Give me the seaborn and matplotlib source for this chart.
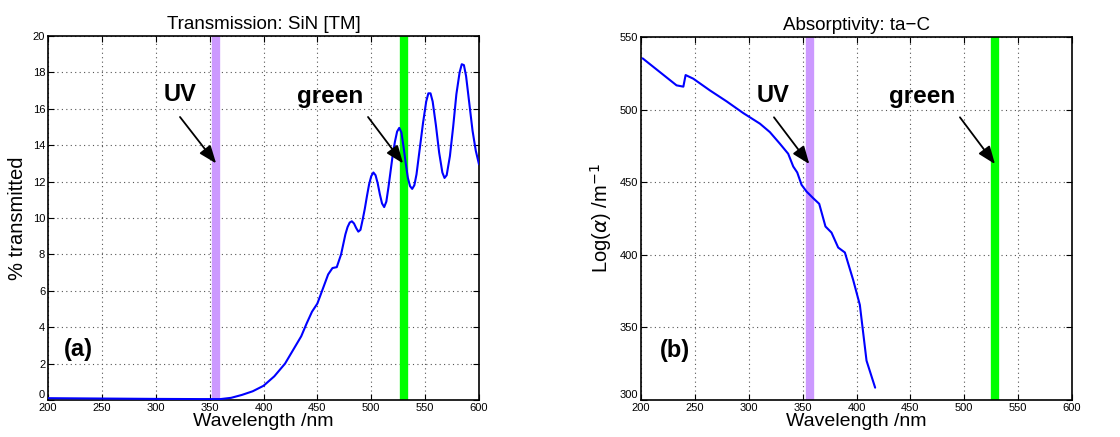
import matplotlib
matplotlib.use("Agg")
import matplotlib.pyplot as plt
import matplotlib.transforms as mtransforms
import seaborn as sns
import pandas as pd

# ---- data: panel (a) transmission ----
trans_nm = [200, 250, 300, 340, 360, 370, 380, 390, 400, 410, 420, 430, 435, 440, 445,
            450, 455, 460, 464, 468, 472, 476, 478, 480, 482, 484, 486, 488, 490, 492,
            494, 496, 498, 500, 502, 504, 506, 508, 510, 512, 514, 516, 518, 520, 522,
            524, 526, 528, 530, 532, 534, 536, 538, 540, 542, 545, 548, 551, 553, 555,
            557, 560, 563, 566, 568, 570, 573, 576, 579, 582, 584, 586, 588, 591, 594,
            597, 600]
trans_pct = [0.10, 0.08, 0.06, 0.05, 0.05, 0.12, 0.28, 0.48, 0.78, 1.3, 2.0, 3.0, 3.5, 4.2, 4.85,
             5.3, 6.1, 6.9, 7.25, 7.3, 8.0, 9.1, 9.5, 9.75, 9.82, 9.7, 9.45, 9.25, 9.35, 9.9,
             10.5, 11.2, 11.85, 12.3, 12.5, 12.35, 11.9, 11.3, 10.8, 10.6, 10.9, 11.7, 12.6, 13.5, 14.2,
             14.75, 14.95, 14.7, 13.9, 13.0, 12.2, 11.75, 11.6, 11.8, 12.4, 13.8, 15.2, 16.4, 16.85, 16.85,
             16.4, 15.1, 13.6, 12.5, 12.2, 12.35, 13.4, 15.0, 16.8, 18.0, 18.45, 18.4, 17.8, 16.3, 14.8,
             13.7, 12.95]

# ---- data: panel (b) absorptivity ----
abs_nm = [201.5, 233, 239.3, 241.4, 248.5, 264, 279.4, 294.9, 310.4, 319.6, 328.9, 336.6,
          341.3, 345, 349, 353.6, 359.8, 365.4, 371.2, 376.8, 383, 389.2, 396.9, 403.1,
          409.3, 417.3]
abs_log = [535.3, 516.7, 515.8, 523.8, 521.3, 513.2, 505.7, 497.6, 490.3, 484.5, 476.5, 469.6,
           460.8, 456.7, 448.2, 443.6, 439.0, 435.1, 419.5, 415.3, 405.0, 401.6, 382.7, 365.5,
           327.1, 308.5]

uv_nm_a, green_nm_a = 356, 530
uv_nm_b, green_nm_b = 357, 529

x_ticks = [200, 250, 300, 350, 400, 450, 500, 550, 600]
y_ticks_a = [0, 2, 4, 6, 8, 10, 12, 14, 16, 18, 20]
y_ticks_b = [300, 350, 400, 450, 500, 550]

sns.set_theme(style="ticks")
plt.rcParams['font.family'] = ['Liberation Sans', 'DejaVu Sans']
plt.rcParams['text.color'] = 'black'
plt.rcParams['axes.labelcolor'] = 'black'
plt.rcParams['xtick.color'] = 'black'
plt.rcParams['ytick.color'] = 'black'

fig = plt.figure(figsize=(11.2, 4.37), dpi=100)
ax1 = fig.add_axes([48/1120, 37/437, 431/1120, 364/437])
ax2 = fig.add_axes([641/1120, 37/437, 431/1120, 363/437])

dfa = pd.DataFrame({"nm": trans_nm, "pct": trans_pct})
dfb = pd.DataFrame({"nm": abs_nm, "val": abs_log})


def style(ax, yticks):
    ax.set_xlim(200, 600)
    ax.set_ylim(yticks[0], yticks[-1])
    ax.set_xticks(x_ticks)
    ax.set_yticks(yticks)
    ax.grid(True, linestyle=(0, (1, 3)), color="#555555", linewidth=0.8)
    ax.set_axisbelow(True)
    ax.tick_params(direction="in", length=4, width=0.8, labelsize=8, top=True, right=True,
                   pad=2, colors="black")
    for s in ax.spines.values():
        s.set_visible(True)
        s.set_linewidth(1.2)
        s.set_color("black")
    ax.set_xlabel("Wavelength /nm", fontsize=14, labelpad=0)
    # lift the bottom y tick label a little so it sits just above the first x label
    lab = ax.get_yticklabels()[0]
    lab.set_transform(lab.get_transform() +
                      mtransforms.ScaledTranslation(0, 4 / 72, fig.dpi_scale_trans))


# panel a
ax1.axvline(uv_nm_a, color="#CC99FF", linewidth=6, zorder=2)
ax1.axvline(green_nm_a, color="#00FF00", linewidth=6, zorder=2)
sns.lineplot(data=dfa, x="nm", y="pct", ax=ax1, color="#0000FF", linewidth=1.5, zorder=3)
style(ax1, y_ticks_a)
ax1.set_ylabel("% transmitted", fontsize=14.5, labelpad=4)
ax1.set_title("Transmission: SiN [TM]", fontsize=13.5, pad=5)
arrow = dict(arrowstyle="-|>,head_length=0.9,head_width=0.35", color="black", lw=1.3,
             shrinkA=0, shrinkB=0)
ax1.annotate("", xy=(uv_nm_a, 13.0), xytext=(322.5, 15.55), arrowprops=arrow, zorder=5)
ax1.annotate("", xy=(green_nm_a - 0.5, 13.0), xytext=(497, 15.55), arrowprops=arrow, zorder=5)
ax1.text(322.5, 16.8, "UV", fontsize=17, fontweight="bold", ha="center", va="center")
ax1.text(461.7, 16.7, "green", fontsize=17.5, fontweight="bold", ha="center", va="center")
ax1.text(228, 2.75, "(a)", fontsize=17, fontweight="bold", ha="center", va="center")

# panel b
ax2.axvline(uv_nm_b, color="#CC99FF", linewidth=6, zorder=2)
ax2.axvline(green_nm_b, color="#00FF00", linewidth=6, zorder=2)
sns.lineplot(data=dfb, x="nm", y="val", ax=ax2, color="#0000FF", linewidth=1.5, zorder=3)
style(ax2, y_ticks_b)
ax2.set_ylabel(r"Log($\alpha$) /m$^{-1}$", fontsize=14.5, labelpad=4)
ax2.set_title("Absorptivity: ta\u2212C", fontsize=13.5, pad=5)
ax2.annotate("", xy=(uv_nm_b - 0.8, 462.5), xytext=(323.4, 494.7), arrowprops=arrow, zorder=5)
ax2.annotate("", xy=(green_nm_b - 0.5, 462.5), xytext=(496, 494.7), arrowprops=arrow, zorder=5)
ax2.text(322.8, 510, "UV", fontsize=17, fontweight="bold", ha="center", va="center")
ax2.text(460.5, 509, "green", fontsize=17.5, fontweight="bold", ha="center", va="center")
ax2.text(231.5, 334, "(b)", fontsize=17, fontweight="bold", ha="center", va="center")

fig.savefig("out.png", dpi=100)
